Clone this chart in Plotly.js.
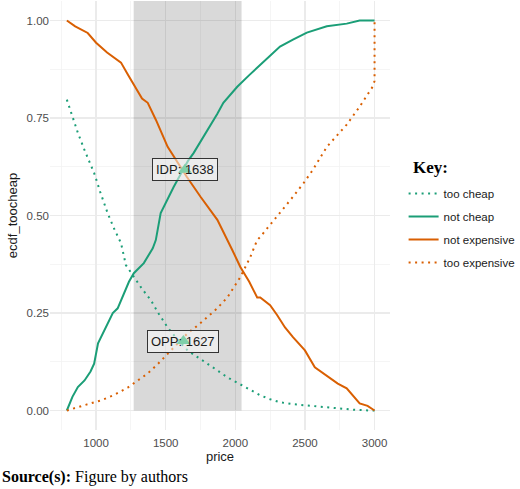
<!DOCTYPE html>
<html>
<head>
<meta charset="utf-8">
<script src="https://cdn.plot.ly/plotly-3.0.1.min.js"></script>
<style>
html,body{margin:0;padding:0;background:#fff;}
#chart{width:520px;height:489px;}
</style>
</head>
<body>
<div id="chart"></div>
<script>
// ---- data ----
var seriesNames = ['too cheap', 'not cheap', 'not expensive', 'too expensive'];

var priceTooCheap = [790, 830, 869, 920, 986, 1030, 1083, 1130, 1179, 1214, 1271, 1330, 1393, 1450, 1514, 1580, 1657, 1730, 1800, 1870, 1943, 2010, 2086, 2179, 2250, 2321, 2420, 2514, 2620, 2729, 2850, 2964, 3000];
var valTooCheap   = [0.797, 0.755, 0.712, 0.665, 0.609, 0.560, 0.506, 0.466, 0.429, 0.373, 0.342, 0.312, 0.283, 0.248, 0.213, 0.184, 0.154, 0.137, 0.121, 0.103, 0.085, 0.072, 0.059, 0.039, 0.029, 0.021, 0.016, 0.013, 0.009, 0.005, 0.002, 0.000, 0.000];

var priceNotCheap = [790, 830, 869, 917, 960, 986, 1014, 1050, 1083, 1120, 1155, 1200, 1236, 1271, 1343, 1407, 1429, 1464, 1510, 1557, 1621, 1660, 1700, 1760, 1821, 1870, 1914, 2014, 2100, 2179, 2271, 2321, 2414, 2514, 2657, 2800, 2893, 3000];
var valNotCheap   = [0.000, 0.035, 0.060, 0.077, 0.100, 0.120, 0.172, 0.200, 0.224, 0.250, 0.262, 0.300, 0.330, 0.352, 0.378, 0.416, 0.437, 0.506, 0.540, 0.573, 0.615, 0.640, 0.660, 0.695, 0.728, 0.760, 0.789, 0.830, 0.860, 0.887, 0.918, 0.933, 0.951, 0.969, 0.985, 0.992, 1.000, 1.000];

var priceNotExp = [790, 850, 940, 1000, 1079, 1179, 1230, 1271, 1330, 1371, 1430, 1514, 1560, 1607, 1650, 1750, 1871, 1979, 2036, 2100, 2157, 2179, 2250, 2300, 2357, 2414, 2500, 2571, 2657, 2736, 2800, 2850, 2893, 2950, 2986, 3000];
var valNotExp   = [1.000, 0.985, 0.968, 0.943, 0.918, 0.892, 0.860, 0.835, 0.800, 0.789, 0.745, 0.676, 0.650, 0.625, 0.600, 0.548, 0.489, 0.411, 0.368, 0.330, 0.290, 0.290, 0.270, 0.245, 0.213, 0.188, 0.154, 0.111, 0.090, 0.069, 0.057, 0.035, 0.018, 0.012, 0.003, 0.000];

var priceTooExp = [790, 833, 930, 1036, 1130, 1229, 1300, 1371, 1440, 1514, 1590, 1657, 1730, 1800, 1870, 1943, 2036, 2107, 2157, 2179, 2250, 2321, 2414, 2490, 2557, 2657, 2730, 2800, 2893, 2986, 3000, 3000];
var valTooExp   = [0.000, 0.005, 0.015, 0.026, 0.040, 0.059, 0.076, 0.095, 0.118, 0.146, 0.172, 0.198, 0.218, 0.239, 0.262, 0.290, 0.342, 0.393, 0.437, 0.445, 0.476, 0.506, 0.548, 0.583, 0.617, 0.676, 0.705, 0.733, 0.779, 0.830, 0.845, 1.000];

// acceptable price range (shaded band)
var bandPrice = [1270, 2045];

// intersection labels
var pointNames  = ['IDP', 'OPP'];
var pointPrice  = [1638, 1627];
var pointValue  = [0.617, 0.178];

var xTickVals = [1000, 1500, 2000, 2500, 3000];
var yTickVals = [0, 0.25, 0.5, 0.75, 1];
var yTickText = ['0.00', '0.25', '0.50', '0.75', '1.00'];

// ---- styling ----
var GREEN = '#1b9e77', ORANGE = '#d95f02';
var dotted = '2px,4.5px';

function tr(x, y, name, color, dash) {
  return {
    type: 'scatter', mode: 'lines', x: x, y: y, name: name,
    legendgroup: name,
    line: {color: color, width: 2, dash: dash},
    hoverinfo: 'skip'
  };
}

var data = [
  tr(priceTooCheap, valTooCheap, seriesNames[0], GREEN, dotted),
  tr(priceNotCheap, valNotCheap, seriesNames[1], GREEN, 'solid'),
  tr(priceNotExp, valNotExp, seriesNames[2], ORANGE, 'solid'),
  tr(priceTooExp, valTooExp, seriesNames[3], ORANGE, dotted),
  {
    type: 'scatter', mode: 'markers', x: pointPrice, y: pointValue, showlegend: false,
    marker: {symbol: 'triangle-up', size: 12, color: 'rgb(0,160,85)'},
    hoverinfo: 'skip'
  }
];

var annotations = [];
for (var i = 0; i < pointNames.length; i++) {
  annotations.push({
    x: pointPrice[i], y: pointValue[i], xref: 'x', yref: 'y',
    text: pointNames[i] + ': ' + pointPrice[i], showarrow: false,
    font: {family: 'Liberation Sans, Arial, sans-serif', size: 13, color: '#1a1a1a'},
    bgcolor: 'rgba(255,255,255,0.5)', bordercolor: '#333333', borderwidth: 1, borderpad: 3
  });
}
annotations.push({
  xref: 'paper', yref: 'paper', x: 1.063, y: 0.613, xanchor: 'left', yanchor: 'middle',
  text: '<b>Key:</b>', showarrow: false,
  font: {family: 'Liberation Serif, Times New Roman, serif', size: 17, color: '#000'}
});
annotations.push({
  xref: 'paper', yref: 'paper', x: -0.147, y: -0.11, xanchor: 'left', yanchor: 'middle',
  text: '<b>Source(s):</b> Figure by authors', showarrow: false,
  font: {family: 'Liberation Serif, Times New Roman, serif', size: 16, color: '#000'}
});

var axisFont = {family: 'Liberation Sans, Arial, sans-serif', size: 11.5, color: '#4d4d4d'};
var layout = {
  width: 520, height: 489,
  margin: {l: 50, r: 130, t: 1, b: 59, autoexpand: false},
  paper_bgcolor: '#fff', plot_bgcolor: '#fff',
  showlegend: true,
  xaxis: {
    range: [669, 3111], tickvals: xTickVals, ticks: '', showline: false, zeroline: false,
    showgrid: true, gridcolor: '#ebebeb', gridwidth: 1.2,
    minor: {dtick: 250, tick0: 0, showgrid: true, gridcolor: '#f3f3f3', gridwidth: 0.8},
    tickfont: axisFont, ticklabelstandoff: 4,
    title: {text: 'price', font: {family: 'Liberation Sans, Arial, sans-serif', size: 13, color: '#1a1a1a'}, standoff: 4}
  },
  yaxis: {
    range: [-0.05, 1.05], tickvals: yTickVals, ticktext: yTickText, ticks: '', showline: false, zeroline: false,
    showgrid: true, gridcolor: '#ebebeb', gridwidth: 1.2,
    minor: {dtick: 0.125, tick0: 0, showgrid: true, gridcolor: '#f3f3f3', gridwidth: 0.8},
    tickfont: axisFont,
    title: {text: 'ecdf_toocheap', font: {family: 'Liberation Sans, Arial, sans-serif', size: 13, color: '#1a1a1a'}, standoff: 6}
  },
  shapes: [{
    type: 'rect', xref: 'x', yref: 'y', layer: 'between',
    x0: bandPrice[0], x1: bandPrice[1], y0: 0, y1: 1.06,
    fillcolor: 'rgba(0,0,0,0.15)', line: {width: 0}
  }],
  legend: {
    x: 1.04, y: 0.585, xanchor: 'left', yanchor: 'top',
    bgcolor: 'rgba(0,0,0,0)', borderwidth: 0,
    font: {family: 'Liberation Sans, Arial, sans-serif', size: 11.5, color: '#1a1a1a'},
    tracegroupgap: 4, itemwidth: 30
  },
  annotations: annotations
};

Plotly.newPlot('chart', data, layout, {displayModeBar: false, staticPlot: true});
</script>
</body>
</html>
